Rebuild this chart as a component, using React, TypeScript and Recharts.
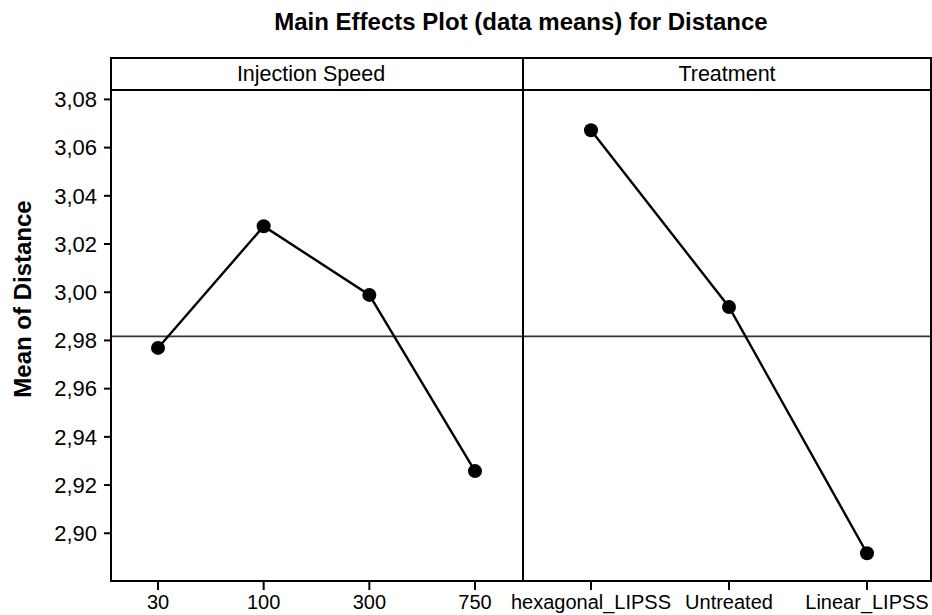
import React from 'react';
import { LineChart, Line, XAxis, YAxis, ReferenceLine } from 'recharts';

const speedLevels = ['30', '100', '300', '750'];
const speedMeans = [2.9769, 3.0274, 2.9989, 2.9258];
const treatmentLevels = ['hexagonal_LIPSS', 'Untreated', 'Linear_LIPSS'];
const treatmentMeans = [3.0672, 2.9939, 2.8917];
const yTicks = [2.9, 2.92, 2.94, 2.96, 2.98, 3.0, 3.02, 3.04, 3.06, 3.08];
const grandMean = 2.9817;
const yDomain: [number, number] = [2.8802, 3.0839];

const speedData = speedLevels.map((level, i) => ({ level, mean: speedMeans[i] }));
const treatmentData = treatmentLevels.map((level, i) => ({ level, mean: treatmentMeans[i] }));

const FONT = "Arial, 'Liberation Sans', Helvetica, sans-serif";
const fmt = (v: number) => v.toFixed(2).replace('.', ',');

const dotStyle = { r: 7, fill: '#000', stroke: '#000', strokeWidth: 0 };
const axisStroke = { stroke: '#000', strokeWidth: 2 };
const xTickStyle = { fill: '#000', fontSize: 20, fontFamily: FONT };
const yTickStyle = { fill: '#000', fontSize: 22, fontFamily: FONT };

const panelStyle: React.CSSProperties = {
  position: 'absolute',
  top: 57,
  height: 525,
  border: '2px solid #000',
  boxSizing: 'border-box',
  pointerEvents: 'none',
};

const headerStyle: React.CSSProperties = {
  height: 32,
  borderBottom: '2px solid #000',
  boxSizing: 'border-box',
  display: 'flex',
  alignItems: 'center',
  justifyContent: 'center',
  fontSize: 21.5,
  fontFamily: FONT,
  color: '#000',
  background: '#fff',
};

export default function App() {
  return (
    <div style={{ position: 'absolute', left: 0, top: 0, width: 932, height: 615, background: '#fff', fontFamily: FONT }}>
      <div style={{ position: 'absolute', left: 0, top: 0 }}>
        <LineChart width={523} height={615} data={speedData} margin={{ top: 90, right: 0, bottom: 0, left: 0 }}>
          <XAxis
            dataKey="level"
            type="category"
            height={34}
            padding={{ left: 47, right: 48 }}
            interval={0}
            tickSize={9}
            tickMargin={5}
            axisLine={axisStroke}
            tickLine={axisStroke}
            tick={xTickStyle}
          />
          <YAxis
            type="number"
            width={111}
            domain={yDomain}
            ticks={yTicks}
            allowDataOverflow
            tickFormatter={fmt}
            tickSize={7}
            tickMargin={7}
            axisLine={axisStroke}
            tickLine={axisStroke}
            tick={yTickStyle}
          />
          <ReferenceLine y={grandMean} stroke="#333" strokeWidth={1.6} />
          <Line dataKey="mean" stroke="#000" strokeWidth={2.4} dot={dotStyle} activeDot={false} isAnimationActive={false} />
        </LineChart>
      </div>
      <div style={{ position: 'absolute', left: 500, top: 0 }}>
        <LineChart width={432} height={615} data={treatmentData} margin={{ top: 90, right: 1, bottom: 0, left: 23 }}>
          <XAxis
            dataKey="level"
            type="category"
            height={34}
            padding={{ left: 68, right: 64 }}
            interval={0}
            tickSize={9}
            tickMargin={5}
            axisLine={axisStroke}
            tickLine={axisStroke}
            tick={xTickStyle}
          />
          <YAxis type="number" hide domain={yDomain} ticks={yTicks} allowDataOverflow />
          <ReferenceLine y={grandMean} stroke="#333" strokeWidth={1.6} />
          <Line dataKey="mean" stroke="#000" strokeWidth={2.4} dot={dotStyle} activeDot={false} isAnimationActive={false} />
        </LineChart>
      </div>
      <div style={{ ...panelStyle, left: 110, width: 414 }}>
        <div style={{ ...headerStyle, paddingRight: 12 }}>Injection Speed</div>
      </div>
      <div style={{ ...panelStyle, left: 522, width: 410 }}>
        <div style={headerStyle}>Treatment</div>
      </div>
      <div
        style={{
          position: 'absolute',
          left: 121,
          top: 8,
          width: 800,
          textAlign: 'center',
          fontSize: 24,
          lineHeight: '28px',
          fontWeight: 'bold',
          color: '#000',
          whiteSpace: 'nowrap',
        }}
      >
        Main Effects Plot (data means) for Distance
      </div>
      <div
        style={{
          position: 'absolute',
          left: 23,
          top: 299,
          transform: 'translate(-50%, -50%) rotate(-90deg)',
          fontSize: 24,
          lineHeight: '28px',
          fontWeight: 'bold',
          color: '#000',
          whiteSpace: 'nowrap',
        }}
      >
        Mean of Distance
      </div>
    </div>
  );
}
